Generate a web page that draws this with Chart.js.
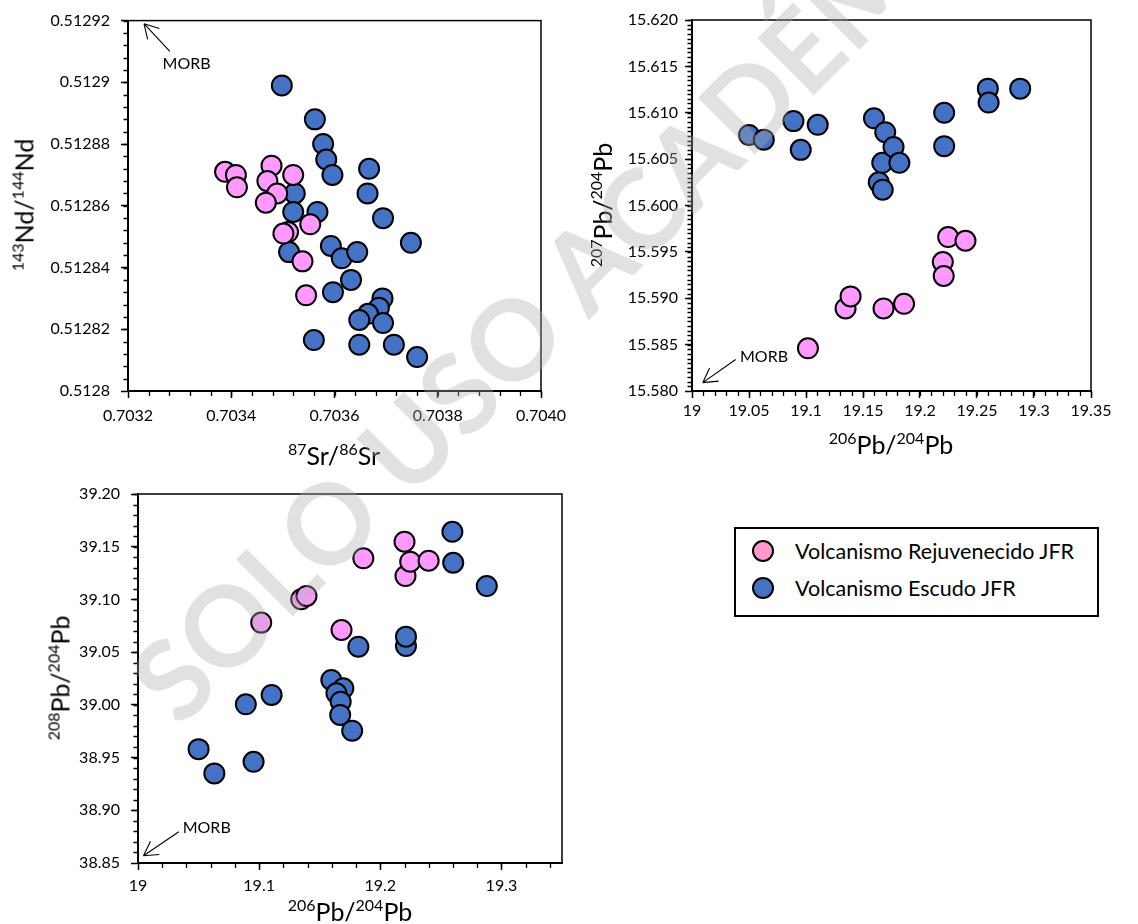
<!DOCTYPE html>
<html>
<head>
<meta charset="utf-8">
<script src="https://cdn.jsdelivr.net/npm/chart.js@4.4.1/dist/chart.umd.min.js"></script>
<style>
  html, body { margin: 0; padding: 0; background: #fff; }
  body { width: 1138px; height: 924px; position: relative; overflow: hidden; font-family: Lato, "Open Sans", sans-serif; color: #000; }
  canvas { position: absolute; }
  .title { position: absolute; white-space: nowrap; font-size: 25px; line-height: 1; transform: translate(-50%, -50%); }
  .title.rot { transform: translate(-50%, -50%) rotate(-90deg); }
  .title sup { font-size: 0.64em; vertical-align: baseline; position: relative; top: -0.62em; }
  #legend { position: absolute; left: 734px; top: 527px; width: 365px; height: 90px; border: 2px solid #000; box-sizing: border-box; }
  #legend .item { position: absolute; left: 0; height: 24px; display: flex; align-items: center; font-size: 21.5px; white-space: nowrap; }
  #legend .dot { width: 18px; height: 18px; border: 2px solid #000; border-radius: 50%; margin: 0 21px 0 16px; }
  #wm { position: absolute; left: 180px; top: 729px; transform-origin: 0 0; transform: rotate(-45deg) translateY(-98px);
        font-size: 111px; line-height: 111px; font-weight: 700; white-space: nowrap; color: rgba(172, 172, 172, 0.36); pointer-events: none; }
</style>
</head>
<body>
<canvas id="srNd" width="580" height="460" style="left:0;top:0"></canvas>
<canvas id="pb207" width="558" height="460" style="left:580px;top:0"></canvas>
<canvas id="pb208" width="580" height="454" style="left:0;top:470px"></canvas>

<div class="title" style="left:334px;top:455px"><sup>87</sup>Sr/<sup>86</sup>Sr</div>
<div class="title rot" style="left:24px;top:205px"><sup>143</sup>Nd/<sup>144</sup>Nd</div>
<div class="title" style="left:891px;top:444px"><sup>206</sup>Pb/<sup>204</sup>Pb</div>
<div class="title rot" style="left:602px;top:205px"><sup>207</sup>Pb/<sup>204</sup>Pb</div>
<div class="title" style="left:350px;top:911px"><sup>206</sup>Pb/<sup>204</sup>Pb</div>
<div class="title rot" style="left:60px;top:678px"><sup>208</sup>Pb/<sup>204</sup>Pb</div>

<div id="legend"></div>
<div id="wm">SOLO USO ACADÉMICO</div>

<script>
// series names
const seriesNames = ['Volcanismo Rejuvenecido JFR', 'Volcanismo Escudo JFR'];

// 87Sr/86Sr vs 143Nd/144Nd
const rejSr = [0.703388, 0.703409, 0.703411, 0.703478, 0.70352, 0.70347, 0.703489, 0.703467, 0.703553, 0.70351, 0.703501, 0.703538, 0.703545];
const rejNd = [0.512871, 0.51287, 0.512866, 0.512873, 0.51287, 0.512868, 0.512864, 0.512861, 0.512854, 0.5128515, 0.512851, 0.512842, 0.512831];
const escSr = [0.703498, 0.703562, 0.703578, 0.703584, 0.703596, 0.703667, 0.703664, 0.703694, 0.703523, 0.70352, 0.703567, 0.703748, 0.703593, 0.703512,
               0.703614, 0.703644, 0.703632, 0.703597, 0.703693, 0.703686, 0.703665, 0.703648, 0.703694, 0.70356, 0.703648, 0.703715, 0.70376];
const escNd = [0.512899, 0.512888, 0.51288, 0.512875, 0.51287, 0.512872, 0.512864, 0.512856, 0.512864, 0.512858, 0.512858, 0.512848, 0.512847, 0.512845,
               0.512843, 0.512845, 0.512836, 0.512832, 0.51283, 0.512827, 0.512825, 0.512823, 0.512822, 0.5128165, 0.512815, 0.512815, 0.512811];

// Pb isotopes
const rejPb206 = [19.1017, 19.1347, 19.1391, 19.168, 19.186, 19.220, 19.2208, 19.2247, 19.2399];
const rejPb207 = [15.5846, 15.5889, 15.5902, 15.5889, 15.5894, 15.5939, 15.5924, 15.5966, 15.5962];
const rejPb208 = [39.078, 39.1001, 39.1033, 39.071, 39.139, 39.1548, 39.1222, 39.1358, 39.1367];
const escPb206 = [19.050, 19.063, 19.089, 19.0954, 19.1103, 19.1596, 19.1695, 19.1638, 19.1673, 19.1669, 19.1768, 19.1819, 19.2212, 19.2212, 19.2595, 19.2602, 19.2879];
const escPb207 = [15.6076, 15.6071, 15.6091, 15.606, 15.6087, 15.6094, 15.6079, 15.6025, 15.6017, 15.6046, 15.6063, 15.6046, 15.6064, 15.6100, 15.6126, 15.6111, 15.6126];
const escPb208 = [38.958, 38.935, 39.0005, 38.946, 39.0094, 39.0236, 39.0157, 39.011, 39.003, 38.9904, 38.9755, 39.0552, 39.0558, 39.0647, 39.1642, 39.1348, 39.1127];

const PINK = '#FF99FF';
const BLUE = '#4472C4';
const FONT = 'Lato, "Open Sans", sans-serif';

const pairs = (xs, ys) => xs.map((x, i) => ({ x: x, y: ys[i] }));

// box around the plot area (left/bottom come from the axis borders)
const frame = {
    id: 'frame',
    afterDraw(chart) {
        const { ctx, chartArea: a } = chart;
        ctx.save();
        ctx.strokeStyle = '#000';
        ctx.lineWidth = 1.5;
        ctx.strokeRect(a.left, a.top, a.right - a.left, a.bottom - a.top);
        ctx.restore();
    }
};

// short ticks between the labelled ones
const minorTicks = {
    id: 'minorTicks',
    afterDraw(chart, args, opts) {
        const { ctx, chartArea: a } = chart;
        ctx.save();
        ctx.strokeStyle = '#000';
        ctx.lineWidth = 1.3;
        ctx.beginPath();
        const xs = chart.scales.x;
        const nx = Math.floor((xs.max - xs.min) / opts.x + 1e-6);
        for (let i = 1; i <= nx; i++) {
            const px = Math.round(xs.getPixelForValue(xs.min + i * opts.x)) + 0.5;
            ctx.moveTo(px, a.bottom);
            ctx.lineTo(px, a.bottom + 5);
        }
        const ys = chart.scales.y;
        const ny = Math.floor((ys.max - ys.min) / opts.y + 1e-6);
        for (let i = 1; i <= ny; i++) {
            const py = Math.round(ys.getPixelForValue(ys.min + i * opts.y)) + 0.5;
            ctx.moveTo(a.left, py);
            ctx.lineTo(a.left - 4.5, py);
        }
        ctx.stroke();
        ctx.restore();
    }
};

// "MORB" label with an open arrow towards the corner
const morb = {
    id: 'morb',
    afterDatasetsDraw(chart, args, opts) {
        const { ctx, scales: { x, y } } = chart;
        const tx = x.getPixelForValue(opts.tip[0]), ty = y.getPixelForValue(opts.tip[1]);
        const sx = x.getPixelForValue(opts.tail[0]), sy = y.getPixelForValue(opts.tail[1]);
        const ang = Math.atan2(sy - ty, sx - tx);
        ctx.save();
        ctx.strokeStyle = '#000';
        ctx.lineWidth = 1.1;
        ctx.beginPath();
        ctx.moveTo(sx, sy);
        ctx.lineTo(tx, ty);
        for (const d of [-0.52, 0.52]) {
            ctx.moveTo(tx, ty);
            ctx.lineTo(tx + 16 * Math.cos(ang + d), ty + 16 * Math.sin(ang + d));
        }
        ctx.stroke();
        ctx.fillStyle = '#000';
        ctx.font = '16px ' + FONT;
        ctx.textAlign = 'left';
        ctx.textBaseline = 'middle';
        ctx.fillText('MORB', x.getPixelForValue(opts.label[0]), y.getPixelForValue(opts.label[1]));
        ctx.restore();
    }
};

function axis(min, max, step, fmt, pad, fit) {
    return {
        type: 'linear', min: min, max: max, bounds: 'data',
        ticks: {
            stepSize: step, includeBounds: false, autoSkip: false, maxRotation: 0,
            padding: pad, color: '#000', font: { family: FONT, size: 16 },
            callback: fmt
        },
        grid: { drawOnChartArea: false, drawTicks: true, tickLength: 7, tickColor: '#000', tickWidth: 1.5 },
        border: { color: '#000', width: 2 },
        afterFit: fit
    };
}

const general = d => v => String(parseFloat(v.toFixed(d)));
const fixed = d => v => v.toFixed(d);

function scatter(id, rej, esc, xAxis, yAxis, padding, minor, arrow) {
    return new Chart(document.getElementById(id), {
        type: 'scatter',
        data: {
            datasets: [
                { label: seriesNames[0], data: rej, backgroundColor: PINK, borderColor: '#000', borderWidth: 2, pointRadius: 10, pointHoverRadius: 10 },
                { label: seriesNames[1], data: esc, backgroundColor: BLUE, borderColor: '#000', borderWidth: 2, pointRadius: 10, pointHoverRadius: 10 }
            ]
        },
        options: {
            responsive: false,
            devicePixelRatio: 1,
            animation: false,
            layout: { padding: padding },
            plugins: {
                legend: { display: false },
                tooltip: { enabled: false },
                minorTicks: minor,
                morb: arrow
            },
            scales: { x: xAxis, y: yAxis }
        },
        plugins: [frame, minorTicks, morb]
    });
}

scatter('srNd', pairs(rejSr, rejNd), pairs(escSr, escNd),
    axis(0.7032, 0.7040, 0.0002, fixed(4), 8, s => { s.height = 40; }),
    axis(0.5128, 0.51292, 0.00002, general(5), 11, s => { s.width = 128; }),
    { top: 20, right: 39, bottom: 29, left: 0 },
    { x: 0.00004, y: 0.000004 },
    { tip: [0.703231, 0.512919], tail: [0.703281, 0.51291], label: [0.703267, 0.512906] });

scatter('pb207', pairs(rejPb206, rejPb207), pairs(escPb206, escPb207),
    axis(19, 19.35, 0.05, general(2), 3, s => { s.height = 40; }),
    axis(15.58, 15.62, 0.005, fixed(3), 7, s => { s.width = 112; }),
    { top: 20, right: 47, bottom: 29, left: 0 },
    { x: 0.01, y: 0.0005 },
    { tip: [19.0094, 15.5809], tail: [19.0383, 15.5834], label: [19.0421, 15.5837] });

scatter('pb208', pairs(rejPb206, rejPb208), pairs(escPb206, escPb208),
    axis(19, 19.35, 0.1, general(2), 6, s => { s.height = 40; }),
    axis(38.85, 39.2, 0.05, fixed(2), 11, s => { s.width = 138; }),
    { top: 24, right: 18, bottom: 21, left: 0 },
    { x: 0.02, y: 0.01 },
    { tip: [19.0045, 38.8569], tail: [19.0337, 38.8797], label: [19.0369, 38.8829] });

// legend box
const legendColors = ['#FF99CC', BLUE];
const legend = document.getElementById('legend');
seriesNames.forEach((name, i) => {
    const item = document.createElement('div');
    item.className = 'item';
    item.style.top = (10 + i * 37) + 'px';
    const dot = document.createElement('span');
    dot.className = 'dot';
    dot.style.background = legendColors[i];
    item.appendChild(dot);
    item.appendChild(document.createTextNode(name));
    legend.appendChild(item);
});
</script>
</body>
</html>
